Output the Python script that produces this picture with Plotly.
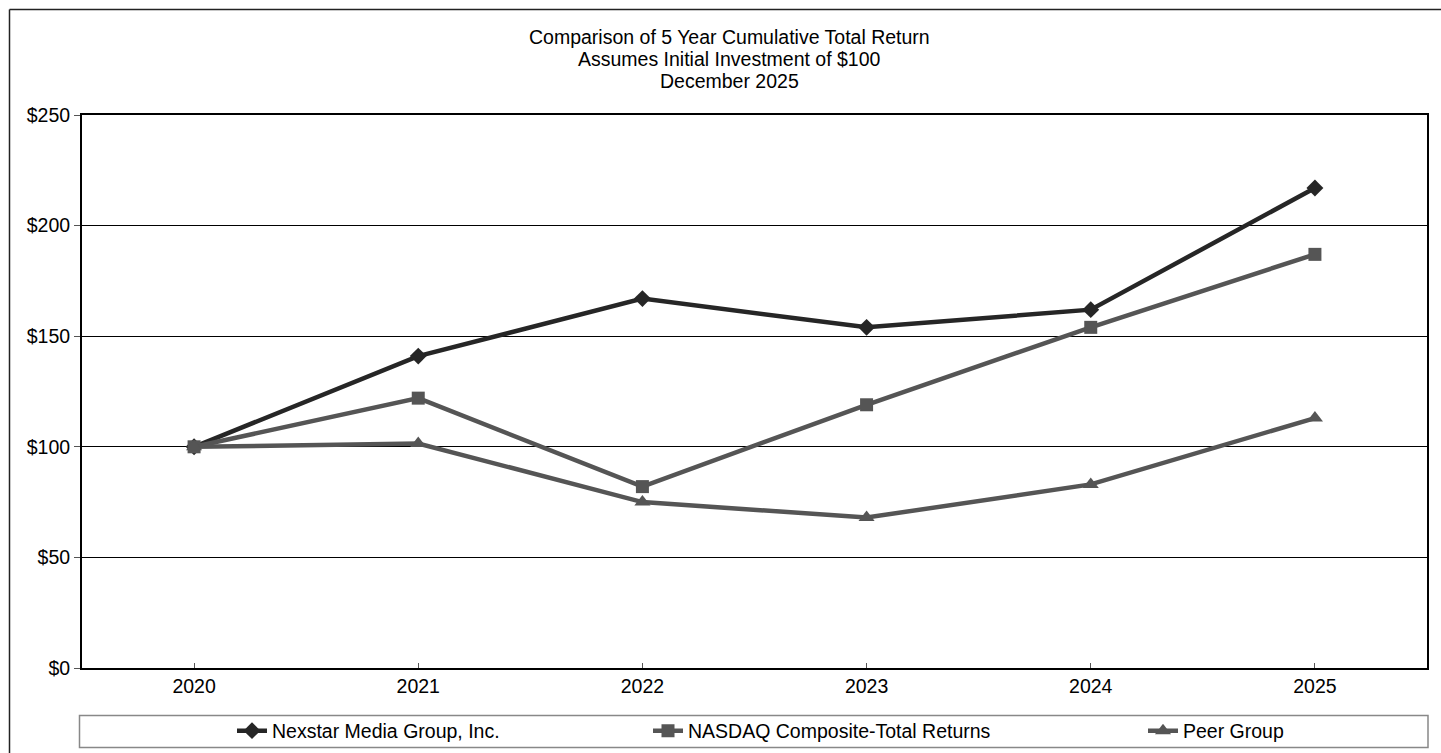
import plotly.graph_objects as go

years = ["2020", "2021", "2022", "2023", "2024", "2025"]
nexstar = [100, 141, 167, 154, 162, 217]
nasdaq = [100, 122, 82, 119, 154, 187]
peer = [100, 101.5, 75, 68, 83, 113]
y_ticks = [0, 50, 100, 150, 200, 250]
y_labels = ["$0", "$50", "$100", "$150", "$200", "$250"]

W, H = 1441, 753
L, R, T, B = 82, 1427, 115, 668
FONT = "Liberation Sans, Arial, sans-serif"
FS = 19.5

def px(x):
    return (x - L) / (R - L)

def py(y):
    return (B - y) / (B - T)

fig = go.Figure()
series = [
    ("Nexstar Media Group, Inc.", nexstar, "#262626", "diamond", 13, "legend"),
    ("NASDAQ Composite-Total Returns", nasdaq, "#555555", "square", 13, "legend2"),
    ("Peer Group", peer, "#555555", "triangle-up", 14, "legend3"),
]
for name, vals, col, sym, sz, lg in series:
    fig.add_trace(go.Scatter(
        x=years, y=vals, name=name, mode="lines+markers",
        line=dict(color=col, width=4.5),
        marker=dict(symbol=sym, size=sz, color=col),
        legend=lg,
    ))

leg_common = dict(orientation="h", bgcolor="rgba(0,0,0,0)", borderwidth=0,
                  font=dict(family=FONT, size=FS, color="#000"),
                  xanchor="left", yanchor="middle", itemwidth=30)

fig.update_layout(
    width=W, height=H,
    margin=dict(l=L, r=W - R, t=T, b=H - B, autoexpand=False),
    paper_bgcolor="white", plot_bgcolor="white",
    font=dict(family=FONT, size=FS, color="#000"),
    xaxis=dict(type="category", range=[-0.5, 5.5], showgrid=False,
               showline=True, linecolor="black", linewidth=2, mirror=True,
               ticks="inside", ticklen=5, tickcolor="#555", tickwidth=1,
               tickfont=dict(size=FS)),
    yaxis=dict(range=[0, 250], tickvals=y_ticks, ticktext=y_labels,
               showgrid=True, gridcolor="black", gridwidth=1,
               showline=True, linecolor="black", linewidth=2, mirror=True,
               ticks="outside", ticklen=6, tickcolor="#555", tickwidth=1,
               zeroline=False, tickfont=dict(size=FS)),
    legend=dict(x=px(232), y=py(731), **leg_common),
    legend2=dict(x=px(648), y=py(731), **leg_common),
    legend3=dict(x=px(1143), y=py(731), **leg_common),
    showlegend=True,
)

# Title lines
for i, txt in enumerate(["Comparison of 5 Year Cumulative Total Return",
                         "Assumes Initial Investment of $100",
                         "December 2025"]):
    fig.add_annotation(text=txt, xref="paper", yref="paper",
                       x=px(729), y=py(37 + 22 * i), showarrow=False,
                       xanchor="center", yanchor="middle",
                       font=dict(family=FONT, size=FS, color="#000"))

# Legend box
fig.add_shape(type="rect", xref="paper", yref="paper",
              x0=px(79.5), x1=px(1428), y0=py(715.5), y1=py(747.5),
              line=dict(color="#888", width=1.5), layer="below")
# Outer border (left and top edges)
fig.add_shape(type="line", xref="paper", yref="paper",
              x0=px(9.5), x1=px(9.5), y0=py(9.5), y1=py(760),
              line=dict(color="#222", width=1.5))
fig.add_shape(type="line", xref="paper", yref="paper",
              x0=px(9.5), x1=px(1445), y0=py(9.5), y1=py(9.5),
              line=dict(color="#222", width=1.5))

fig.write_html("out.html")
